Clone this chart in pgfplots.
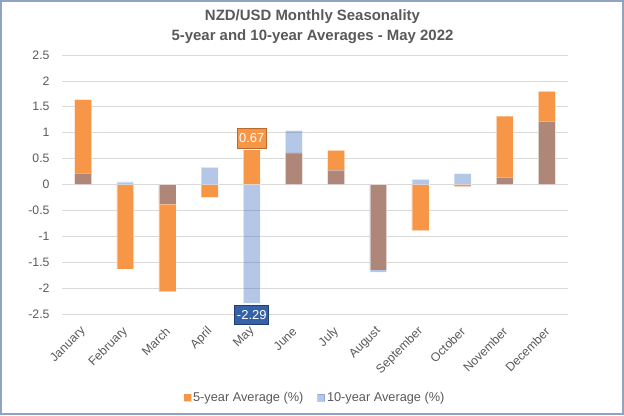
\documentclass[border=0pt]{standalone}
\usepackage{pgfplots}
\pgfplotsset{compat=1.18}
\usepackage{fontspec}
\setmainfont{Liberation Sans}
\definecolor{orng}{HTML}{F79646}
\definecolor{blu}{HTML}{4472C4}
\definecolor{txt}{HTML}{595959}
\definecolor{grd}{HTML}{D9D9D9}
\definecolor{frm}{HTML}{8EA4C2}
\definecolor{lblblue}{HTML}{3561A8}
\definecolor{lblblueb}{HTML}{203E70}
\definecolor{lblorb}{HTML}{B8692E}
\begin{document}
\begin{tikzpicture}[x=1bp,y=1bp]
\useasboundingbox (0,0) rectangle (624,415);
\draw[frm, line width=2bp] (1,1) rectangle (623,414);
\node[font=\bfseries\fontsize{15}{20}\selectfont, text=txt, align=center] at (312.5,388) {NZD/USD Monthly Seasonality\\5-year and 10-year Averages - May 2022};
\begin{axis}[
  at={(62bp,101bp)}, anchor=south west,
  scale only axis, width=506bp, height=259bp,
  xmin=-0.5, xmax=11.5, ymin=-2.5, ymax=2.5,
  axis line style={draw=none},
  major tick length=0pt,
  ymajorgrids, grid style={grd, line width=0.8bp},
  ytick={-2.5,-2,-1.5,-1,-0.5,0,0.5,1,1.5,2,2.5},
  xtick={0,...,11},
  xticklabels={January,February,March,April,May,June,July,August,September,October,November,December},
  tick label style={text=txt, font=\fontsize{12.3}{14}\selectfont},
  yticklabel style={/pgf/number format/assume math mode=true, xshift=-9bp},
  xticklabel style={xshift=3bp, yshift=-13bp, rotate=45, anchor=east},
  legend style={at={(0.5,-0.324)}, anchor=center, draw=none, fill=none, legend columns=2,
     font=\fontsize{12.8}{15}\selectfont, text=txt, /tikz/every even column/.append style={column sep=12bp}},
  clip=false,
]
\addplot[ybar, bar width=0.4, bar shift=0pt, fill=orng, draw=white, draw opacity=0.35, line width=0.6bp,
  legend image code/.code={\fill[orng] (0bp,-3.5bp) rectangle (7bp,3.5bp);}]
 coordinates {(0,1.64) (1,-1.63) (2,-2.07) (3,-0.25) (4,0.67) (5,0.61) (6,0.66) (7,-1.65) (8,-0.89) (9,-0.04) (10,1.32) (11,1.80)};
\addlegendentry{5-year Average (\%)}
\addplot[ybar, bar width=0.4, bar shift=0pt, fill=blu, fill opacity=0.4, draw=white, draw opacity=0.35, line width=0.6bp,
  legend image code/.code={\fill[blu, fill opacity=0.4] (0bp,-3.5bp) rectangle (7bp,3.5bp);}]
 coordinates {(0,0.22) (1,0.05) (2,-0.38) (3,0.33) (4,-2.29) (5,1.04) (6,0.28) (7,-1.69) (8,0.10) (9,0.21) (10,0.14) (11,1.22)};
\addlegendentry{10-year Average (\%)}
\node[fill=orng, draw=lblorb, line width=1bp, text=white, font=\fontsize{13}{15}\selectfont,
  inner xsep=2bp, minimum height=20bp, anchor=south, yshift=1bp] at (axis cs:4,0.67) {0.67};
\node[fill=lblblue, draw=lblblueb, line width=1bp, text=white, font=\fontsize{13}{15}\selectfont,
  inner xsep=2bp, minimum height=19bp, anchor=north, yshift=-2bp] at (axis cs:4,-2.29) {-2.29};
\end{axis}
\end{tikzpicture}
\end{document}
